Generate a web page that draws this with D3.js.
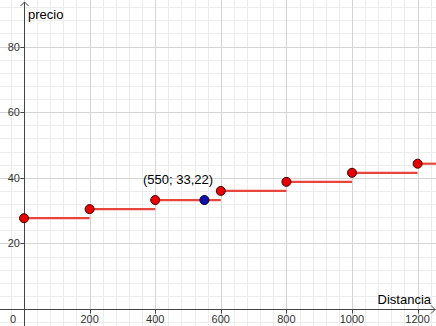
<!DOCTYPE html>
<html><head><meta charset="utf-8">
<script src="https://cdn.jsdelivr.net/npm/d3@7"></script>
<style>body{margin:0;background:#fff}svg{display:block}</style>
</head><body>
<svg id="c" width="436" height="326"></svg>
<script>
const distances = [0, 200, 400, 600, 800, 1000, 1200];
const prices = [27.68, 30.45, 33.22, 35.99, 38.76, 41.53, 44.30];
const highlight = {x: 550, y: 33.22, label: "(550; 33,22)"};
const xTicks = [200, 400, 600, 800, 1000, 1200];
const yTicks = [20, 40, 60, 80];
const xTitle = "Distancia", yTitle = "precio";

const W = 436, H = 326;
const svg = d3.select("#c");
const x = d3.scaleLinear().domain([0, 1200]).range([24, 417.6]);
const y = d3.scaleLinear().domain([0, 80]).range([309, 46.6]);
const xMin = x.invert(0), xMax = x.invert(W), yMin = y.invert(H), yMax = y.invert(0);

// grid
const g = svg.append("g");
const minorX = d3.range(Math.ceil(xMin/40)*40, xMax, 40);
const minorY = d3.range(Math.ceil(yMin/4)*4, yMax, 4);
g.selectAll(".mx").data(minorX).join("line")
  .attr("x1", d => Math.round(x(d))+0.5).attr("x2", d => Math.round(x(d))+0.5)
  .attr("y1", 0).attr("y2", H).attr("stroke", "#ececec");
g.selectAll(".my").data(minorY).join("line")
  .attr("y1", d => Math.round(y(d))+0.5).attr("y2", d => Math.round(y(d))+0.5)
  .attr("x1", 0).attr("x2", W).attr("stroke", "#ececec");
const majorX = d3.range(Math.ceil(xMin/200)*200, xMax, 200);
const majorY = d3.range(Math.ceil(yMin/20)*20, yMax, 20);
g.selectAll(".Mx").data(majorX).join("line")
  .attr("x1", d => Math.round(x(d))+0.5).attr("x2", d => Math.round(x(d))+0.5)
  .attr("y1", 0).attr("y2", H).attr("stroke", "#d4d4d4");
g.selectAll(".My").data(majorY).join("line")
  .attr("y1", d => Math.round(y(d))+0.5).attr("y2", d => Math.round(y(d))+0.5)
  .attr("x1", 0).attr("x2", W).attr("stroke", "#d4d4d4");

// axes
const ax = svg.append("g").attr("stroke", "#444").attr("fill", "none");
const x0 = Math.round(x(0))+0.5, y0 = Math.round(y(0))+0.5;
ax.append("line").attr("x1", 0).attr("x2", W-1).attr("y1", y0).attr("y2", y0);
ax.append("line").attr("x1", x0).attr("x2", x0).attr("y1", 2).attr("y2", H);
ax.append("path").attr("d", `M${W-5},${y0-4}L${W-1},${y0}L${W-5},${y0+4}`);
ax.append("path").attr("d", `M${x0-4},${6}L${x0},${2}L${x0+4},${6}`);
ax.selectAll(".tx").data(xTicks).join("line")
  .attr("x1", d => Math.round(x(d))+0.5).attr("x2", d => Math.round(x(d))+0.5)
  .attr("y1", y0).attr("y2", y0+4);
ax.selectAll(".ty").data(yTicks).join("line")
  .attr("y1", d => Math.round(y(d))+0.5).attr("y2", d => Math.round(y(d))+0.5)
  .attr("x1", x0-4).attr("x2", x0);

const txt = svg.append("g").attr("font-family", "Liberation Sans, Arial, sans-serif").attr("fill", "#333");
txt.selectAll(".lx").data(xTicks).join("text")
  .attr("x", d => x(d)).attr("y", 323).attr("text-anchor", "middle")
  .attr("font-size", 11).text(d => d);
txt.append("text").attr("x", 13).attr("y", 323).attr("text-anchor", "middle").attr("font-size", 11).text("0");
txt.selectAll(".ly").data(yTicks).join("text")
  .attr("x", 20).attr("y", d => y(d)+4).attr("text-anchor", "end")
  .attr("font-size", 11).text(d => d);
txt.append("text").attr("x", 28).attr("y", 19).attr("font-size", 13).attr("fill", "#000").text(yTitle);
txt.append("text").attr("x", 431).attr("y", 304).attr("text-anchor", "end").attr("font-size", 13).attr("fill", "#000").text(xTitle);

// step segments
const segs = distances.map((d, i) => ({x1: d, x2: i < distances.length-1 ? distances[i+1] : xMax, v: prices[i]}));
svg.append("g").selectAll("line").data(segs).join("line")
  .attr("x1", d => x(d.x1)).attr("x2", d => x(d.x2))
  .attr("y1", d => y(d.v)).attr("y2", d => y(d.v))
  .attr("stroke", "#e8453c").attr("stroke-width", 2.2);

// points
svg.append("g").selectAll("circle").data(distances).join("circle")
  .attr("cx", d => x(d)).attr("cy", (d, i) => y(prices[i])).attr("r", 4.5)
  .attr("fill", "#e60000").attr("stroke", "#400").attr("stroke-width", 1);
svg.append("circle").attr("cx", x(highlight.x)).attr("cy", y(highlight.y)).attr("r", 4.5)
  .attr("fill", "#1010b0").attr("stroke", "#000030").attr("stroke-width", 1);
txt.append("text").attr("x", 178).attr("y", 184).attr("text-anchor", "middle")
  .attr("font-size", 13).attr("fill", "#000").text(highlight.label);
</script>
</body></html>
